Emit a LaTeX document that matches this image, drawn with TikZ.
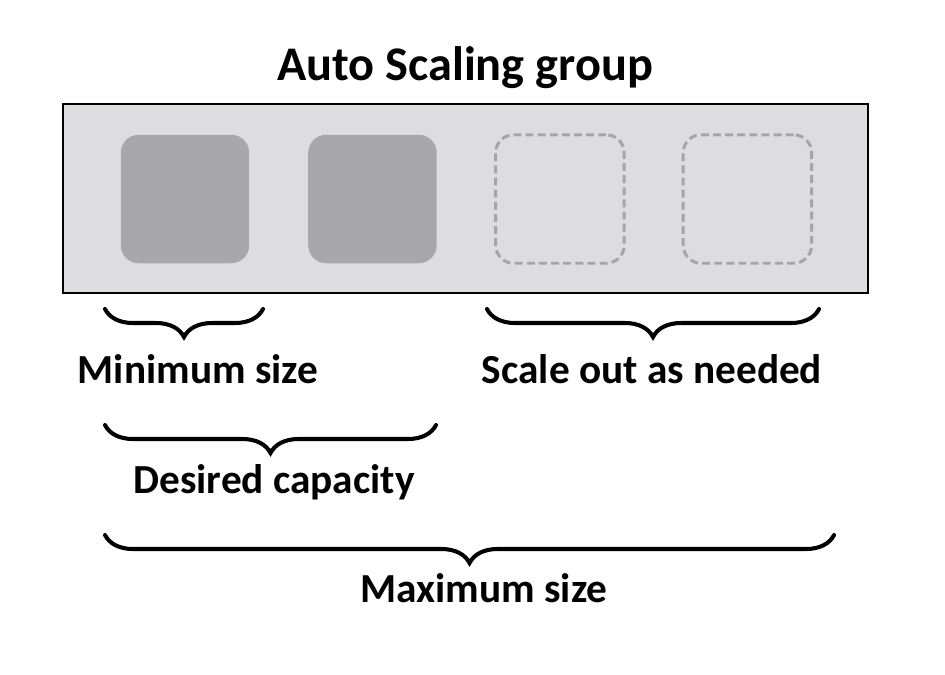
\documentclass[tikz,border=0pt]{standalone}
\usepackage{fontspec}
\setmainfont{Carlito}
\usepackage{tikz}
\usetikzlibrary{positioning,decorations.pathreplacing}
\definecolor{groupGray}{RGB}{221,220,222}
\definecolor{instGray}{RGB}{168,168,170}
\definecolor{spareGray}{RGB}{165,165,167}

\begin{document}
\begin{tikzpicture}[
x=0.02cm, y=-0.02cm,
node distance=1.18cm,
group/.style={draw, fill=groupGray, line width=1.4pt, minimum width=16.1cm, minimum height=3.78cm, inner sep=0pt},
inst/.style={rounded corners=0.36cm, minimum width=2.57cm, minimum height=2.57cm, inner sep=0pt, outer sep=0pt},
running/.style={inst, fill=instGray},
spare/.style={inst, draw=spareGray, line width=1.7pt, dash pattern=on 4.5pt off 2.4pt},
sizebrace/.style={decorate, decoration={brace, mirror, amplitude=0.56cm}, line width=2.3pt, line cap=round},
sizetext/.style={font=\bfseries\fontsize{23.5}{28}\selectfont, anchor=base, inner sep=0pt}
]
\useasboundingbox (0,0) rectangle (945,674);

\node[sizetext, font=\bfseries\fontsize{27.5}{33}\selectfont] (title) at (465,80) {Auto Scaling group};

\node[group] (asg) at (465.5,198.5) {};

\node[running] (inst1) at (185,199) {};
\node[running, right=of inst1] (inst2) {};
\node[spare, right=of inst2] (inst3) {};
\node[spare, right=of inst3] (inst4) {};

% braces under the group
\coordinate (minL) at (105,309);
\coordinate (minR) at (263,309);
\coordinate (outL) at (487,309);
\coordinate (outR) at (819,309);
\coordinate (desL) at (105,425);
\coordinate (desR) at (436,425);
\coordinate (maxL) at (105,535);
\coordinate (maxR) at (834,535);

\draw[sizebrace] (minL) -- (minR);
\draw[sizebrace] (outL) -- (outR);
\draw[sizebrace] (desL) -- (desR);
\draw[sizebrace] (maxL) -- (maxR);

\node[sizetext] (minsize) at (198,383) {Minimum size};
\node[sizetext] (scaleout) at (652,383) {Scale out as needed};
\node[sizetext] (desired) at (274,493) {Desired capacity};
\node[sizetext] (maxsize) at (484,602) {Maximum size};
\end{tikzpicture}
\end{document}
